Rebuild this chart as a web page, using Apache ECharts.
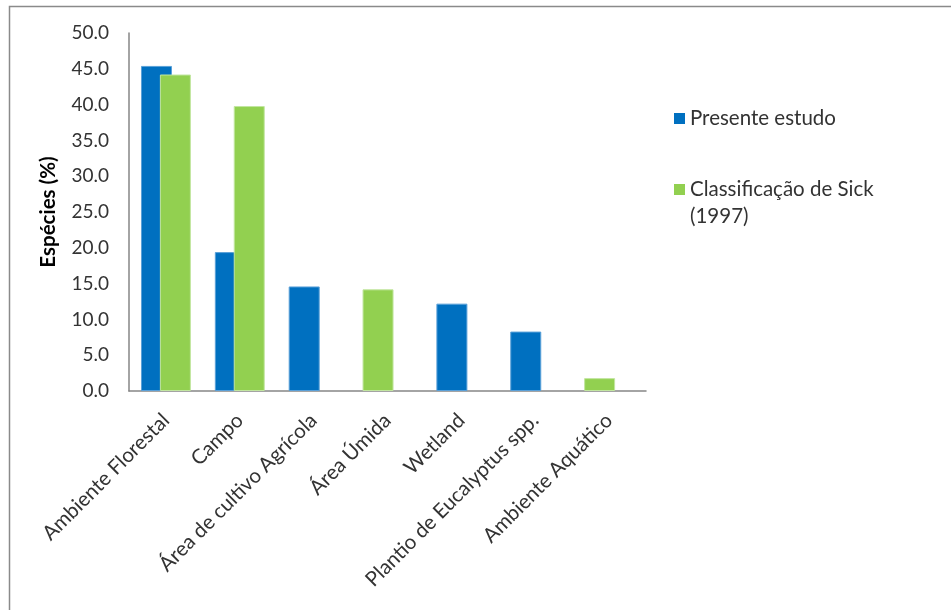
<!DOCTYPE html>
<html>
<head>
<meta charset="utf-8">
<script src="https://cdn.jsdelivr.net/npm/echarts@6/dist/echarts.min.js"></script>
<style>
html,body{margin:0;padding:0;background:#fff;}
#c{width:951px;height:610px;}
</style>
</head>
<body>
<div id="c"></div>
<script>
var categories = ['Ambiente Florestal','Campo','Área de cultivo Agrícola','Área Úmida','Wetland','Plantio de Eucalyptus spp.','Ambiente Aquático'];
var presente = [45.4, 19.4, 14.6, null, 12.2, 8.3, null];
var sick = [44.2, 39.8, null, 14.2, null, null, 1.8];
var yTicks = ['0.0','5.0','10.0','15.0','20.0','25.0','30.0','35.0','40.0','45.0','50.0'];
var seriesNames = ['Presente estudo', 'Classificação de Sick (1997)'];

var BLUE = '#0070C0', GREEN = '#92D050';
var FONT = 'Lato';
var TXT = '#333333';

// green bars in categories that also have a blue bar sit beside it; lone green bars take the first slot
var sickPaired = sick.map(function(v,i){ return presente[i] != null ? v : null; });
var sickAlone = sick.map(function(v,i){ return presente[i] == null ? v : null; });

var chart = echarts.init(document.getElementById('c'));
var xBase = {
  type: 'category', data: categories,
  axisTick: {show: false},
  axisLine: {lineStyle: {color: '#868686', width: 1.5}}
};
chart.setOption({
  backgroundColor: '#fff',
  animation: false,
  graphic: [{
    type: 'rect', shape: {x: 9.5, y: 6.5, width: 1200, height: 900},
    style: {fill: 'none', stroke: '#8a8a8a', lineWidth: 1.5}, silent: true
  }],
  grid: {left: 129, right: 305, top: 33, bottom: 219, containLabel: false},
  legend: [{
    data: [seriesNames[0]], left: 669, top: 103, icon: 'rect', itemWidth: 11, itemHeight: 11, itemGap: 6,
    itemStyle: {borderWidth: 0},
    textStyle: {fontFamily: FONT, fontSize: 20.5, color: TXT}
  },{
    data: [seriesNames[1]], left: 669, top: 144, icon: 'rect', itemWidth: 11, itemHeight: 11, itemGap: 6,
    itemStyle: {borderWidth: 0},
    formatter: function(n){ return '\u00a0\n' + n.replace(' (', '\n('); },
    textStyle: {fontFamily: FONT, fontSize: 20.5, color: TXT, lineHeight: 27}
  }],
  xAxis: [
    Object.assign({}, xBase, {
      axisLabel: {rotate: 45, interval: 0, margin: 26, fontFamily: FONT, fontSize: 20.5, color: TXT}
    }),
    Object.assign({}, xBase, {show: false})
  ],
  yAxis: {
    type: 'value', min: 0, max: 50, interval: 5,
    name: 'Espécies (%)', nameLocation: 'middle', nameGap: 70,
    nameTextStyle: {fontFamily: FONT, fontSize: 20.5, fontWeight: 'bold', color: '#000'},
    axisLine: {show: true, lineStyle: {color: '#868686', width: 1.5}},
    axisTick: {show: false},
    splitLine: {show: false},
    axisLabel: {margin: 20, fontFamily: FONT, fontSize: 19, color: TXT,
      formatter: function(v){ return yTicks[Math.round(v/5)]; }}
  },
  series: [
    {name: seriesNames[0], type: 'bar', xAxisIndex: 0, data: presente, barWidth: 31, barGap: '-39%',
      itemStyle: {color: BLUE, borderColor: '#5aa0d8', borderWidth: 1}},
    {name: seriesNames[1], type: 'bar', xAxisIndex: 0, data: sickPaired, barWidth: 31, barGap: '-39%',
      itemStyle: {color: GREEN, borderColor: '#c2e6a0', borderWidth: 1}},
    {name: seriesNames[1], type: 'bar', xAxisIndex: 1, data: sickAlone, barWidth: 31, barGap: '-39%',
      itemStyle: {color: GREEN, borderColor: '#c2e6a0', borderWidth: 1}},
    {name: '_slot', type: 'bar', xAxisIndex: 1, data: [], barWidth: 31, barGap: '-39%'}
  ]
});
</script>
</body>
</html>
